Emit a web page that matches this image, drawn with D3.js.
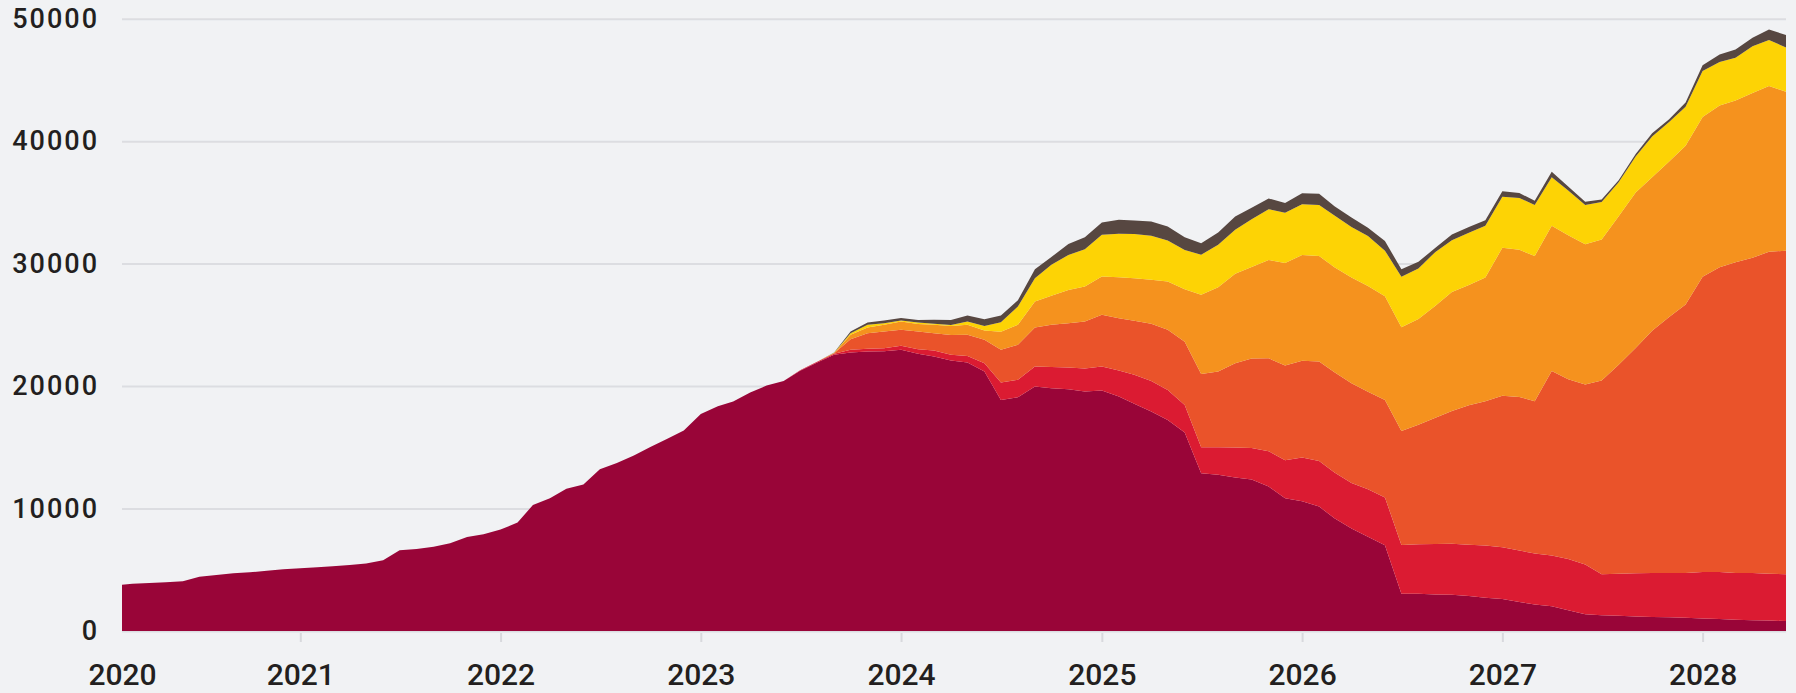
<!DOCTYPE html>
<html>
<head>
<meta charset="utf-8">
<script src="https://cdn.jsdelivr.net/npm/d3@7"></script>
<style>
  html, body { margin: 0; padding: 0; background: #f1f2f4; }
  svg { display: block; }
  text { font-family: Roboto, "Open Sans", sans-serif; font-weight: 500; fill: #231f20; }
</style>
</head>
<body>
<svg id="chart" width="1796" height="693"></svg>
<script>
// ---------------- DATA ----------------
// first point (start of the series), then one point per month from 2020-03 to 2028-06
const startDate = "2020-02-11";
const firstMonth = "2020-03-01";
const lastMonth = "2028-06-01";

const seriesNames = ["Series 1", "Series 2", "Series 3", "Series 4", "Series 5", "Series 6"];
const seriesColors = ["#990538", "#db1b32", "#ea532a", "#f5921e", "#fdd305", "#574741"];

const series1 = [
  3780, 3850, 3920, 3990, 4060, 4440, 4575, 4710, 4790, 4930, 5040,
  5120, 5200, 5280, 5390, 5510, 5780, 6600, 6700, 6890, 7160, 7680, 7910,
  8290, 8850, 10290, 10840, 11620, 11960, 13200, 13720, 14340, 15020, 15700, 16370,
  17730, 18350, 18740, 19480, 20040, 20420, 21250, 21920, 22550, 22740, 22820, 22850,
  22960, 22630, 22410, 22090, 21920, 21190, 18870, 19090, 19960, 19830, 19740, 19550,
  19640, 19140, 18550, 17920, 17240, 16200, 12880, 12750, 12530, 12380, 11800, 10840,
  10600, 10160, 9210, 8370, 7690, 7010, 3050, 3050, 2980, 2950, 2850, 2710,
  2610, 2370, 2170, 2030, 1690, 1360, 1290, 1250, 1190, 1150, 1120, 1080,
  1020, 980, 910, 880, 850, 810
];
const series2 = [
  0, 0, 0, 0, 0, 0, 0, 0, 0, 0, 0,
  0, 0, 0, 0, 0, 0, 0, 0, 0, 0, 0, 0,
  0, 0, 0, 0, 0, 0, 0, 0, 0, 0, 0, 0,
  0, 0, 0, 0, 0, 0, 40, 60, 100, 220, 220, 245,
  330, 380, 490, 460, 545, 680, 1420, 1420, 1630, 1720, 1770, 1880,
  1960, 2125, 2370, 2505, 2450, 2260, 2125, 2260, 2450, 2560, 2880, 3100,
  3560, 3726, 3726, 3725, 3895, 3895, 3963, 4029, 4132, 4166, 4200, 4267,
  4234, 4200, 4166, 4132, 4199, 4064, 3353, 3421, 3523, 3590, 3624, 3658,
  3794, 3828, 3828, 3861, 3827, 3827
];
const series3 = [
  0, 0, 0, 0, 0, 0, 0, 0, 0, 0, 0,
  0, 0, 0, 0, 0, 0, 0, 0, 0, 0, 0, 0,
  0, 0, 0, 0, 0, 0, 0, 0, 0, 0, 0, 0,
  0, 0, 0, 0, 0, 0, 0, 0, 40, 870, 1280, 1360,
  1310, 1440, 1420, 1630, 1720, 1910, 2670, 2860, 3190, 3460, 3620, 3840,
  4220, 4280, 4410, 4660, 4900, 5170, 5990, 6180, 6890, 7320, 7590, 7740,
  7910, 8128, 8197, 8129, 7960, 7959, 9314, 9756, 10298, 10840, 11382, 11789,
  12364, 12533, 12432, 15074, 14668, 14702, 15820, 17072, 18393, 19782, 20899, 21916,
  24117, 24896, 25370, 25743, 26285, 26421
];
const series4 = [
  0, 0, 0, 0, 0, 0, 0, 0, 0, 0, 0,
  0, 0, 0, 0, 0, 0, 0, 0, 0, 0, 0, 0,
  0, 0, 0, 0, 0, 0, 0, 0, 0, 0, 0, 0,
  0, 0, 0, 0, 0, 0, 0, 0, 20, 354, 463, 545,
  681, 626, 681, 735, 817, 760, 1470, 1634, 2124, 2369, 2723, 2859,
  3131, 3350, 3485, 3595, 3949, 4276, 6455, 6890, 7298, 7470, 8030, 8363,
  8640, 8603, 8569, 8637, 8637, 8468, 8468, 8637, 9145, 9721, 9822, 10093,
  12092, 12024, 11854, 11855, 11753, 11448, 11515, 12126, 12701, 12532, 12702, 12972,
  13040, 13209, 13210, 13446, 13548, 12972
];
const series5 = [
  0, 0, 0, 0, 0, 0, 0, 0, 0, 0, 0,
  0, 0, 0, 0, 0, 0, 0, 0, 0, 0, 0, 0,
  0, 0, 0, 0, 0, 0, 0, 0, 0, 0, 0, 0,
  0, 0, 0, 0, 0, 0, 0, 0, 10, 136, 218, 136,
  82, 109, 81, 82, 272, 364, 780, 1500, 1906, 2532, 2860, 3051,
  3405, 3540, 3595, 3595, 3350, 3213, 3268, 3459, 3595, 3890, 4150, 4110,
  4130, 4166, 4234, 4132, 4064, 3726, 4132, 4132, 4403, 4233, 4268, 4234,
  4166, 4234, 4166, 3963, 3658, 3217, 3048, 2777, 2947, 3319, 3217, 3184,
  3759, 3556, 3488, 3828, 3760, 3624
];
const series6 = [
  0, 0, 0, 0, 0, 0, 0, 0, 0, 0, 0,
  0, 0, 0, 0, 0, 0, 0, 0, 0, 0, 0, 0,
  0, 0, 0, 0, 0, 0, 0, 0, 0, 0, 0, 0,
  0, 0, 0, 0, 0, 0, 0, 0, 20, 136, 190, 218,
  191, 218, 327, 408, 490, 560, 545, 500, 735, 627, 898, 980,
  1007, 1144, 1117, 1171, 1143, 1035, 953, 1007, 1089, 950, 870, 800,
  915, 915, 745, 779, 677, 779, 609, 542, 339, 475, 474, 440,
  440, 406, 339, 440, 339, 271, 204, 170, 203, 271, 237, 338,
  475, 610, 678, 677, 846, 1016
];

const yTicks = [0, 10000, 20000, 30000, 40000, 50000];
const xTickLabels = ["2020", "2021", "2022", "2023", "2024", "2025", "2026", "2027", "2028"];

// ---------------- BUILD ----------------
const parse = d3.utcParse("%Y-%m-%d");
const dates = [parse(startDate)].concat(
  d3.utcMonth.range(parse(firstMonth), d3.utcDay.offset(parse(lastMonth), 1))
);
const allSeries = [series1, series2, series3, series4, series5, series6];
const keys = seriesNames;
const table = dates.map((d, i) => {
  const row = { date: d };
  keys.forEach((k, j) => { row[k] = allSeries[j][i]; });
  return row;
});

const svg = d3.select("#chart");
const plotLeft = 122;
const plotRight = 1786;
const plotTop = 18.7;
const plotBottom = 631;

const x = d3.scaleUtc()
  .domain([dates[0], dates[dates.length - 1]])
  .range([plotLeft, plotRight]);
const y = d3.scaleLinear()
  .domain([0, 50000])
  .range([plotBottom, plotTop]);

// gridlines
const grid = svg.append("g")
  .attr("transform", `translate(${plotLeft},0)`)
  .call(d3.axisLeft(y).tickValues(yTicks).tickSize(-(plotRight - plotLeft)).tickFormat(""));
grid.select(".domain").remove();
grid.selectAll("line").attr("stroke", "#dcdde1").attr("stroke-width", 2);

// stacked areas
const stack = d3.stack().keys(keys);
const layers = stack(table);
const area = d3.area()
  .x(d => x(d.data.date))
  .y0(d => y(d[0]))
  .y1(d => y(d[1]))
  .curve(d3.curveLinear);

svg.append("g").selectAll("path")
  .data(layers)
  .join("path")
  .attr("d", area)
  .attr("fill", (d, i) => seriesColors[i]);

// y axis labels
const yAxis = svg.append("g")
  .attr("transform", `translate(${plotLeft},0)`)
  .call(d3.axisLeft(y).tickValues(yTicks).tickSize(0).tickPadding(23).tickFormat(d3.format("d")));
yAxis.select(".domain").remove();
yAxis.selectAll("text")
  .style("font-size", "27px")
  .style("letter-spacing", "2px")
  .attr("fill", "#231f20");

// x axis
const xTickDates = [dates[0]].concat(xTickLabels.slice(1).map(s => parse(s + "-01-01")));
const xAxis = svg.append("g")
  .attr("transform", `translate(0,${plotBottom})`)
  .call(d3.axisBottom(x).tickValues(xTickDates).tickSize(11).tickPadding(22)
    .tickFormat((d, i) => xTickLabels[i]));
xAxis.select(".domain").remove();
xAxis.selectAll("line").attr("stroke", "#d8d9dd").attr("stroke-width", 2).attr("y1", 2);
xAxis.selectAll(".tick").filter((d, i) => i === 0).select("line").remove();
xAxis.selectAll("text")
  .style("font-size", "30px")
  .attr("fill", "#231f20");
</script>
</body>
</html>
